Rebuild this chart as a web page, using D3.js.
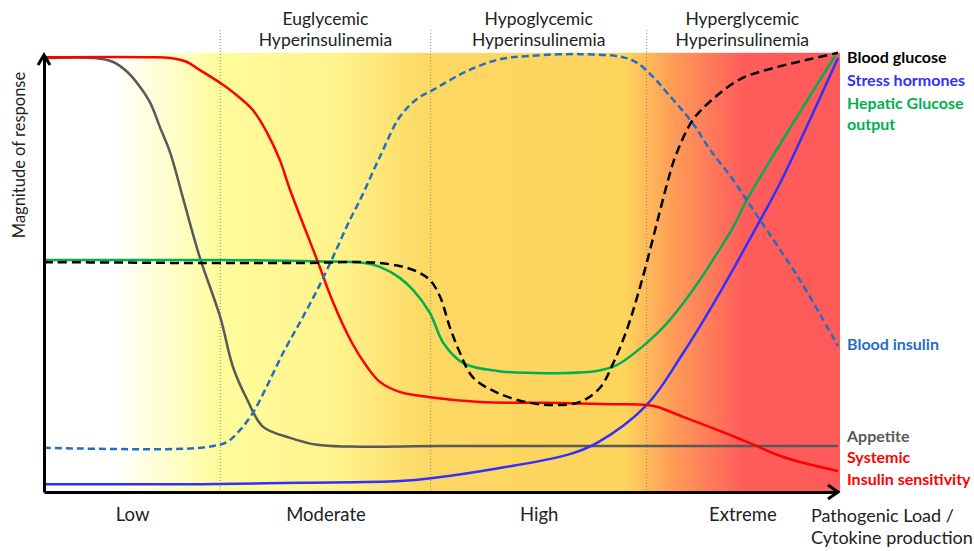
<!DOCTYPE html>
<html>
<head>
<meta charset="utf-8">
<script src="https://cdn.jsdelivr.net/npm/d3@7"></script>
<style>
  body { margin: 0; background: #fff; }
  svg text { font-family: Lato, 'Open Sans', sans-serif; }
</style>
</head>
<body>
<div class="dataviz"></div>
<script>
// phases of pathogenic load (x in 0..100), magnitude of response (y in 0..100)
const phaseBounds = [0, 22.2, 48.7, 75.9, 100]
const loadLabels = ['Low', 'Moderate', 'High', 'Extreme']
const phaseLabels = [
  ['Euglycemic', 'Hyperinsulinemia'],
  ['Hypoglycemic', 'Hyperinsulinemia'],
  ['Hyperglycemic', 'Hyperinsulinemia']
]

const sensitivityX = [0, 13.4, 15.9, 18.0, 19.6, 22.2, 23.8, 26.3, 28.1, 29.7, 31.0, 34.5, 36.3, 38.8, 40.7, 42.3, 44.8, 48.6, 54.9, 63.4, 71.7, 75.9, 77.2, 80.5, 84.8, 88.9, 93.1, 100]
const sensitivityY = [99.5, 99.5, 99.3, 98.4, 96.6, 93.6, 91.5, 87.4, 82.2, 76.0, 69.1, 52.6, 43.9, 34.1, 28.6, 25.2, 22.9, 21.7, 20.6, 20.4, 20.1, 19.9, 19.5, 17.2, 14.2, 11.2, 8.0, 4.8]

const appetiteX = [0, 6.4, 8.7, 10.5, 12.1, 13.4, 14.6, 15.9, 17.5, 19.6, 22.2, 23.8, 25.6, 27.6, 31.0, 34.4, 38.5, 50, 65, 80, 100]
const appetiteY = [99.3, 99.3, 98.4, 96.1, 92.7, 89.0, 83.5, 77.6, 67.3, 53.8, 40.0, 28.6, 21.1, 14.9, 12.4, 10.8, 10.4, 10.5, 10.5, 10.5, 10.5]

const insulinX = [0, 15.5, 20.5, 23.0, 24.7, 26.3, 28.1, 30.1, 32.2, 34.4, 36.4, 38.5, 39.8, 42.3, 44.8, 47.0, 49.0, 52.8, 57.1, 61.2, 67.5, 72.9, 74.7, 76.7, 78.5, 81.7, 83.9, 86.8, 88.5, 90.2, 95.2, 100]
const insulinY = [10.1, 9.8, 10.3, 11.4, 14.2, 18.1, 24.3, 31.8, 38.7, 46.2, 53.8, 62.2, 66.8, 76.7, 85.8, 90.0, 92.0, 95.9, 98.9, 99.8, 100.2, 99.5, 98.2, 95.0, 91.3, 84.4, 78.3, 71.4, 66.8, 62.2, 48.5, 33.4]

const glucoseX = [0, 10, 19.6, 32, 42.3, 46.5, 48.6, 49.9, 51.1, 52.4, 54.0, 57.1, 61.2, 64.6, 67.5, 70.0, 71.7, 73.4, 74.7, 75.9, 77.2, 78.6, 79.5, 81.7, 84.3, 87.7, 91.8, 96.1, 100]
const glucoseY = [52.6, 52.5, 52.4, 52.4, 52.4, 50.8, 48.5, 44.6, 37.8, 31.8, 26.3, 22.7, 20.4, 19.9, 20.6, 23.8, 29.5, 37.1, 44.6, 52.4, 61.6, 71.4, 76.7, 85.1, 90.0, 94.5, 97.0, 98.9, 100.5]

const hepaticX = [0, 11, 22.2, 34.4, 40.4, 42.3, 44.8, 46.5, 48.6, 50.3, 52.8, 57.1, 63.4, 69.6, 72.2, 75.9, 78.5, 80.5, 82.6, 84.8, 86.8, 88.5, 99.7]
const hepaticY = [53.1, 53.1, 53.1, 52.8, 52.4, 51.5, 49.0, 46.2, 41.0, 34.1, 29.5, 27.7, 27.2, 27.7, 29.1, 34.1, 38.7, 43.2, 48.5, 54.7, 60.6, 66.8, 100]

const stressX = [0, 10, 19.6, 32.2, 44.8, 49.0, 57.4, 65.9, 69.6, 75.9, 80.5, 84.8, 90.2, 92.9, 100]
const stressY = [1.8, 1.8, 1.8, 2.1, 2.5, 3.2, 5.5, 8.5, 11.2, 19.9, 31.8, 44.6, 62.2, 71.4, 99.3]

const width = 974
const height = 551

const svg = d3.select('.dataviz').append('svg')
  .attr('width', width).attr('height', height)

const xScale = d3.scaleLinear().domain([0, 100]).range([44, 838])
const yScale = d3.scaleLinear().domain([0, 100]).range([492, 55])

// background gradient
const grad = svg.append('defs').append('linearGradient')
  .attr('id', 'bg').attr('x1', '0%').attr('x2', '100%').attr('y1', '0%').attr('y2', '0%')
;[[0, '#ffffff'], [9, '#ffffff'], [22, '#fffc9c'], [37, '#fff38c'], [48, '#fdd863'],
  [73, '#fdd45c'], [79, '#ff9c58'], [88, '#ff5c5c'], [100, '#ff5a5a']]
  .forEach(([o, c]) => grad.append('stop').attr('offset', o + '%').attr('stop-color', c))

svg.append('rect')
  .attr('x', xScale(0)).attr('y', yScale(100.5))
  .attr('width', xScale(100) - xScale(0) + 2)
  .attr('height', yScale(0) - yScale(100.5))
  .attr('fill', 'url(#bg)')

// phase separators
svg.selectAll('.sep')
  .data(phaseBounds.slice(1, -1))
  .enter().append('line')
  .attr('class', 'sep')
  .attr('x1', d => xScale(d)).attr('x2', d => xScale(d))
  .attr('y1', 30).attr('y2', yScale(0))
  .attr('stroke', '#8a8a8a').attr('stroke-width', 1).attr('stroke-dasharray', '1,2')

// phase titles
phaseLabels.forEach((lines, i) => {
  const cx = xScale((phaseBounds[i + 1] + phaseBounds[i + 2]) / 2)
  lines.forEach((t, j) => {
    svg.append('text')
      .attr('x', cx).attr('y', 25 + j * 21)
      .attr('text-anchor', 'middle')
      .attr('font-size', 17.5).attr('fill', '#222')
      .text(t)
  })
})

// curves
const line = d3.line()
  .curve(d3.curveCatmullRom.alpha(0.5))
  .x(d => xScale(d[0]))
  .y(d => yScale(d[1]))

const series = [
  { xs: appetiteX, ys: appetiteY, color: '#595959', dash: null },
  { xs: stressX, ys: stressY, color: '#3030ff', dash: null },
  { xs: hepaticX, ys: hepaticY, color: '#00b050', dash: null },
  { xs: sensitivityX, ys: sensitivityY, color: '#ff0000', dash: null },
  { xs: insulinX, ys: insulinY, color: '#1f70c4', dash: '7,4' },
  { xs: glucoseX, ys: glucoseY, color: '#000000', dash: '9,5' }
]

series.forEach(s => {
  svg.append('path')
    .datum(d3.zip(s.xs, s.ys))
    .attr('d', line)
    .attr('fill', 'none')
    .attr('stroke', s.color)
    .attr('stroke-width', 2.5)
    .attr('stroke-dasharray', s.dash)
})

// axes
const mids = loadLabels.map((_, i) => (phaseBounds[i] + phaseBounds[i + 1]) / 2)
const xAxis = svg.append('g')
  .attr('transform', `translate(0, ${yScale(0)})`)
  .call(d3.axisBottom(xScale).tickValues(mids).tickSize(0).tickSizeOuter(0).tickPadding(16)
    .tickFormat((d, i) => loadLabels[i]))
xAxis.select('.domain').attr('stroke', '#000').attr('stroke-width', 3)
xAxis.selectAll('text').attr('font-size', 18.5).attr('fill', '#222').style('font-family', 'Lato, sans-serif')

const yAxis = svg.append('g')
  .attr('transform', `translate(${xScale(0)}, 0)`)
  .call(d3.axisLeft(yScale).tickValues([]).tickSizeOuter(0))
yAxis.select('.domain').attr('stroke', '#000').attr('stroke-width', 3)

// arrow heads
const x0 = xScale(0), y0 = yScale(0), x1 = xScale(100), y1 = yScale(100)
svg.append('path')
  .attr('d', `M${x1 - 10},${y0 - 7}L${x1},${y0}L${x1 - 10},${y0 + 7}`)
  .attr('fill', 'none').attr('stroke', '#000').attr('stroke-width', 3)
svg.append('path')
  .attr('d', `M${x0 - 6},${y1 + 10}L${x0},${y1}L${x0 + 6},${y1 + 10}`)
  .attr('fill', 'none').attr('stroke', '#000').attr('stroke-width', 3)

svg.append('text')
  .attr('transform', `translate(25, 155) rotate(-90)`)
  .attr('text-anchor', 'middle')
  .attr('font-size', 16.5).attr('fill', '#222')
  .text('Magnitude of response')

svg.append('text').attr('x', 811).attr('y', 522).attr('font-size', 18).attr('fill', '#222').text('Pathogenic Load /')
svg.append('text').attr('x', 811).attr('y', 544).attr('font-size', 18).attr('fill', '#222').text('Cytokine production')

// series labels
const seriesLabels = [
  ['Blood glucose', 63, '#000000'],
  ['Stress hormones', 86, '#3030ff'],
  ['Hepatic Glucose', 109, '#00b050'],
  ['output', 130, '#00b050'],
  ['Blood insulin', 350, '#1f70c4'],
  ['Appetite', 442, '#595959'],
  ['Systemic', 463, '#ff0000'],
  ['Insulin sensitivity', 485, '#ff0000']
]
svg.selectAll('.lbl')
  .data(seriesLabels)
  .enter().append('text')
  .attr('class', 'lbl')
  .attr('x', 847)
  .attr('y', d => d[1])
  .attr('fill', d => d[2])
  .attr('font-size', 16)
  .attr('font-weight', 'bold')
  .text(d => d[0])
</script>
</body>
</html>
